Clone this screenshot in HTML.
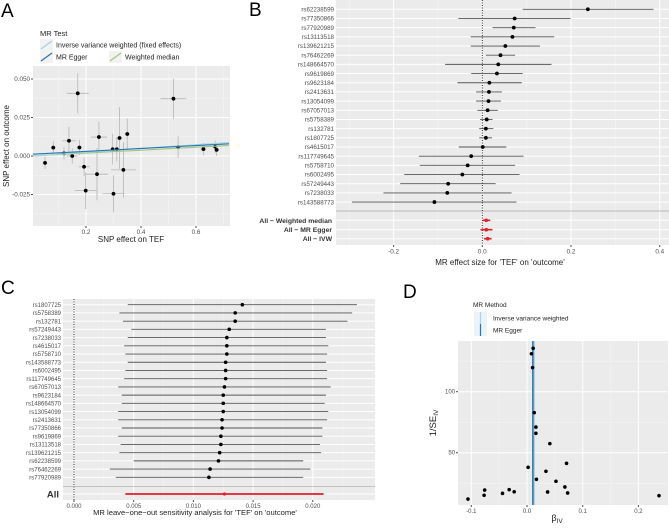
<!DOCTYPE html>
<html><head><meta charset="utf-8"><style>
html,body{margin:0;padding:0;background:#fff;}
svg{display:block;font-family:"Liberation Sans",sans-serif;}
</style></head><body>
<svg id="fig" width="669" height="528" viewBox="0 0 669 528" xmlns="http://www.w3.org/2000/svg"></svg>
<script>
// ---------- Panel A data ----------
const aX = [0.051,0.081,0.12,0.138,0.15,0.17,0.176,0.193,0.199,0.24,0.247,0.297,0.30,0.312,0.322,0.336,0.35,0.518,0.535,0.627,0.67,0.675];
const aY = [-0.0045,0.0054,0.0017,0.0099,0,0.0407,0.0055,-0.007,-0.0225,-0.0118,0.0123,0.0044,-0.0245,0.0044,0.0117,-0.009,0.0143,0.0372,0.0058,0.0045,0.006,0.004];
const aXerr = [0.008,0.008,0.02,0.025,0.02,0.04,0.01,0.02,0.04,0.04,0.03,0.005,0.04,0.01,0.01,0.045,0.01,0.047,0.01,0.01,0.01,0.008];
const aYerr = [0.004,0.004,0.004,0.009,0.005,0.013,0.005,0.006,0.012,0.017,0.01,0.01,0.012,0.008,0.02,0.018,0.01,0.013,0.007,0.004,0.004,0.004];
const aLineSlopes = [0.0122,0.0095,0.0095];
const aLineIntercepts = [0.0,0.0011,0.0];
const aLineNames = ["Inverse variance weighted (fixed effects)","MR Egger","Weighted median"];
const aXTicks = [0.2,0.4,0.6];
const aYTicks = [0.05,0.025,0,-0.025];
const aYTickLabels = ["0.050","0.025","0.000","-0.025"];
// ---------- Panel B data ----------
const bSnps = ["rs62238599","rs77350866","rs77920989","rs13113518","rs139621215","rs76462269","rs148664570","rs9619869","rs9623184","rs2413631","rs13054099","rs67057013","rs5758389","rs132781","rs1807725","rs4615017","rs117749645","rs5758710","rs6002495","rs57249443","rs7238033","rs143588773"];
const bEst = [0.238,0.073,0.071,0.068,0.052,0.041,0.036,0.033,0.016,0.015,0.014,0.012,0.010,0.008,0.008,0.001,-0.025,-0.033,-0.045,-0.077,-0.079,-0.108];
const bLo = [0.091,-0.054,0.023,-0.026,-0.026,0.008,-0.084,-0.025,-0.056,-0.014,-0.014,-0.011,-0.005,-0.007,-0.007,-0.053,-0.143,-0.141,-0.176,-0.185,-0.223,-0.294];
const bHi = [0.386,0.199,0.12,0.162,0.13,0.074,0.156,0.091,0.089,0.044,0.042,0.035,0.023,0.025,0.022,0.054,0.093,0.074,0.084,0.03,0.066,0.077];
const bSumNames = ["All - Weighted median","All - MR Egger","All - IVW"];
const bSumEst = [0.009,0.009,0.012];
const bSumLo = [0.001,-0.004,0.004];
const bSumHi = [0.018,0.023,0.021];
const bXTicks = [-0.2,0,0.2,0.4];
const bXTickLabels = ["-0.2","0.0","0.2","0.4"];
// ---------- Panel C data ----------
const cSnps = ["rs1807725","rs5758389","rs132781","rs57249443","rs7238033","rs4615017","rs5758710","rs143588773","rs6002495","rs117749645","rs67057013","rs9623184","rs148664570","rs13054099","rs2413631","rs77350866","rs9619869","rs13113518","rs139621215","rs62238599","rs76462269","rs77920989"];
const cEst = [0.0141,0.0135,0.0135,0.0130,0.0128,0.0128,0.0128,0.0127,0.0127,0.0127,0.0126,0.0125,0.0125,0.0125,0.0124,0.0124,0.0123,0.0123,0.0122,0.0121,0.0114,0.0113];
const cLo = [0.0045,0.0038,0.0041,0.0048,0.0045,0.0042,0.0043,0.0045,0.0043,0.0042,0.0037,0.0040,0.0040,0.0037,0.0037,0.0040,0.0037,0.0039,0.0038,0.0050,0.0030,0.0035];
const cHi = [0.0237,0.0233,0.0229,0.0211,0.0211,0.0213,0.0212,0.0211,0.0212,0.0212,0.0215,0.0211,0.0210,0.0213,0.0212,0.0208,0.0208,0.0206,0.0207,0.0192,0.0198,0.0192];
const cAll = [0.0126,0.0043,0.0209];
const cXTicks = [0,0.005,0.01,0.015,0.02];
const cXTickLabels = ["0.000","0.005","0.010","0.015","0.020"];
// ---------- Panel D data ----------
const dBeta = [0.011,0.008,0.010,0.013,0.016,0.016,0.041,0.002,0.071,0.034,0.017,0.052,0.068,0.073,0.037,-0.032,-0.023,-0.044,-0.076,-0.077,-0.106,0.237];
const dInvSe = [135.6,131.1,119.7,82.8,71,65.9,57.4,38,41.3,34.8,28.2,26.6,21.9,17,17.8,19.7,18,16.7,19.4,15.1,12,14.8];
const dMethodNames = ["Inverse variance weighted","MR Egger"];
const dMethodEst = [0.0125,0.0105];
const dXTicks = [-0.1,0,0.1,0.2];
const dXTickLabels = ["-0.1","0.0","0.1","0.2"];
const dYTicks = [50,100];

const NS="http://www.w3.org/2000/svg";
const svg=document.getElementById('fig');
function mk(tag,attrs,parent,text){const e=document.createElementNS(NS,tag);for(const k in attrs)e.setAttribute(k,attrs[k]);if(text!==undefined)e.textContent=text;(parent||svg).appendChild(e);return e;}
function lin(d0,d1,r0,r1){return v=>r0+(v-d0)*(r1-r0)/(d1-d0);}
const TICK="#4D4D4D", GRID="#FFFFFF", BG="#EBEBEB";

// ===== Panel A =====
(function(){
  const g=mk('g',{});
  
  const L=33,R=230,T=66,B=226;
  const x=lin(0,0.2,31,86), y=lin(0,0.025,156,117.5);
  const t=mk('text',{x:1,y:17,'font-size':19},g,'A');
  const lt=mk('text',{x:40,y:36,'font-size':7.5,fill:'#222'},g,'MR Test');
  const keys=[[40,45,56,'#B9DDEB'],[40,57,56,'#2D72B5'],[109,57,125,'#A8CF8E']];
  const ls=[['#9ED4E6','#BFD9E0'],['#2873B5','#2873B5'],['#9CC97E','#D0DEC6']];
  keys.forEach((k,i)=>{
    const kg=mk('g',{},g);
    mk('rect',{x:k[0],y:k[1]-6,width:13,height:12,fill:'#F2F2F2'},kg);
    mk('line',{x1:k[0]+1,y1:k[1]+4,x2:k[0]+12,y2:k[1]-4,stroke:ls[i][0],'stroke-width':1.3},kg);
    mk('text',{x:k[2],y:k[1]+2.5,'font-size':7,fill:'#222'},kg,aLineNames[i]);
  });
  const bg=mk('rect',{x:L,y:T,width:R-L,height:B-T,fill:BG},g);
  [0.1,0.3,0.5,0.7].forEach(v=>mk('line',{x1:x(v),x2:x(v),y1:T,y2:B,stroke:'#F5F5F5','stroke-width':0.5},g));
  [0.0375,0.0125,-0.0125,-0.0375].forEach(v=>mk('line',{x1:L,x2:R,y1:y(v),y2:y(v),stroke:'#F5F5F5','stroke-width':0.5},g));
  aXTicks.forEach(v=>{mk('line',{x1:x(v),x2:x(v),y1:T,y2:B,stroke:GRID,'stroke-width':1},g);mk('line',{x1:x(v),x2:x(v),y1:B,y2:B+2,stroke:TICK},g);
    const tl=mk('text',{x:x(v),y:B+8,'font-size':6.3,fill:TICK,'text-anchor':'middle'},g,String(v));});
  aYTicks.forEach((v,i)=>{mk('line',{x1:L,x2:R,y1:y(v),y2:y(v),stroke:GRID,'stroke-width':1},g);mk('line',{x1:L-2,x2:L,y1:y(v),y2:y(v),stroke:TICK},g);
    const tl=mk('text',{x:L-3,y:y(v)+2.2,'font-size':6.3,fill:TICK,'text-anchor':'end'},g,aYTickLabels[i]);});
  aX.forEach((v,i)=>{
    const pg=mk('g',{},g);
    mk('line',{x1:x(v-aXerr[i]),x2:x(v+aXerr[i]),y1:y(aY[i]),y2:y(aY[i]),stroke:'#B5B5B5','stroke-width':0.8},pg);
    mk('line',{x1:x(v),x2:x(v),y1:y(aY[i]-aYerr[i]),y2:y(aY[i]+aYerr[i]),stroke:'#B5B5B5','stroke-width':0.8},pg);
    mk('circle',{cx:x(v),cy:y(aY[i]),r:1.9,fill:'#000'},pg);
  });
  const cols=['#A8D8E8','#2873B5','#9CC97E'];
  [2,0,1].forEach(i=>{const x0=0.007,x1=0.72;
    const l=mk('line',{x1:x(x0),x2:x(x1),y1:y(aLineIntercepts[i]+aLineSlopes[i]*x0),y2:y(aLineIntercepts[i]+aLineSlopes[i]*x1),stroke:cols[i],'stroke-width':1.1},g);
    });
  const xt=mk('text',{x:131,y:242,'font-size':8,fill:'#222','text-anchor':'middle'},g,'SNP effect on TEF');
  const yt=mk('text',{x:0,y:0,'font-size':8,fill:'#222','text-anchor':'middle',transform:'translate(9,146) rotate(-90)'},g,'SNP effect on outcome');
})();

// ===== Panel B =====
(function(){
  const g=mk('g',{});
  const L=336,R=669,T=0,B=245;
  const x=lin(0,0.2,482.3,571);
  const row=i=>9.3+i*9.18; const srow=[220.3,229.7,238.7];
  const t=mk('text',{x:249,y:16,'font-size':19},g,'B');
  mk('rect',{x:L,y:T,width:R-L,height:B-T,fill:BG},g);
  [-0.3,-0.1,0.1,0.3].forEach(v=>mk('line',{x1:x(v),x2:x(v),y1:T,y2:B,stroke:'#F5F5F5','stroke-width':0.5},g));
  bXTicks.forEach((v,i)=>{mk('line',{x1:x(v),x2:x(v),y1:T,y2:B,stroke:GRID,'stroke-width':1},g);mk('line',{x1:x(v),x2:x(v),y1:B,y2:B+2,stroke:TICK},g);
    const tl=mk('text',{x:x(v),y:B+8.5,'font-size':6.3,fill:TICK,'text-anchor':'middle'},g,bXTickLabels[i]);});
  bSnps.forEach((s,i)=>mk('line',{x1:L,x2:R,y1:row(i),y2:row(i),stroke:GRID,'stroke-width':1},g));
  srow.forEach(yv=>mk('line',{x1:L,x2:R,y1:yv,y2:yv,stroke:GRID,'stroke-width':1},g));
  mk('line',{x1:L,x2:R,y1:211,y2:211,stroke:'#AAAAAA','stroke-width':0.7},g);
  mk('line',{x1:x(0),x2:x(0),y1:T,y2:B,stroke:'#000','stroke-width':0.8,'stroke-dasharray':'1,1.5'},g);
  bSnps.forEach((s,i)=>{
    const rg=mk('g',{},g);
    mk('text',{x:334,y:row(i)+2.2,'font-size':6.2,fill:TICK,'text-anchor':'end'},rg,s);
    mk('line',{x1:x(bLo[i]),x2:x(bHi[i]),y1:row(i),y2:row(i),stroke:'#555','stroke-width':0.9},rg);
    mk('circle',{cx:x(bEst[i]),cy:row(i),r:1.9,fill:'#000'},rg);
  });
  bSumNames.forEach((s,i)=>{
    const rg=mk('g',{},g);
    mk('text',{x:332,y:srow[i]+2.5,'font-size':6.8,'font-weight':'bold',fill:'#333','text-anchor':'end'},rg,s.replace(' - ',' \u2212 '));
    mk('line',{x1:x(bSumLo[i]),x2:x(bSumHi[i]),y1:srow[i],y2:srow[i],stroke:'#E0202A','stroke-width':1.6},rg);
    mk('circle',{cx:x(bSumEst[i]),cy:srow[i],r:1.8,fill:'#E0202A'},rg);
  });
  const xt=mk('text',{x:500,y:265,'font-size':8,fill:'#222','text-anchor':'middle'},g,"MR effect size for  'TEF' on 'outcome'");
})();

// ===== Panel C =====
(function(){
  const g=mk('g',{});
  const L=63,R=375,T=299,B=500;
  const x=lin(0,0.005,74,133.7);
  const row=i=>304.7+i*8.22; const allY=494;
  const t=mk('text',{x:1,y:294,'font-size':19},g,'C');
  mk('rect',{x:L,y:T,width:R-L,height:B-T,fill:BG},g);
  [0.0025,0.0075,0.0125,0.0175,0.0225].forEach(v=>mk('line',{x1:x(v),x2:x(v),y1:T,y2:B,stroke:'#F5F5F5','stroke-width':0.5},g));
  cXTicks.forEach((v,i)=>{mk('line',{x1:x(v),x2:x(v),y1:T,y2:B,stroke:GRID,'stroke-width':1},g);mk('line',{x1:x(v),x2:x(v),y1:B,y2:B+2,stroke:TICK},g);
    const tl=mk('text',{x:x(v),y:B+8,'font-size':6,fill:TICK,'text-anchor':'middle'},g,cXTickLabels[i]);});
  cSnps.forEach((s,i)=>mk('line',{x1:L,x2:R,y1:row(i),y2:row(i),stroke:GRID,'stroke-width':1},g));
  mk('line',{x1:L,x2:R,y1:allY,y2:allY,stroke:GRID,'stroke-width':1},g);
  mk('line',{x1:L,x2:R,y1:486.7,y2:486.7,stroke:'#AAAAAA','stroke-width':0.7},g);
  mk('line',{x1:x(0),x2:x(0),y1:T,y2:B,stroke:'#000','stroke-width':0.8,'stroke-dasharray':'1,1.5'},g);
  cSnps.forEach((s,i)=>{
    const rg=mk('g',{},g);
    mk('text',{x:61,y:row(i)+2.2,'font-size':6,fill:TICK,'text-anchor':'end'},rg,s);
    mk('line',{x1:x(cLo[i]),x2:x(cHi[i]),y1:row(i),y2:row(i),stroke:'#555','stroke-width':0.9},rg);
    mk('circle',{cx:x(cEst[i]),cy:row(i),r:1.8,fill:'#000'},rg);
  });
  const ag=mk('g',{},g);
  mk('text',{x:59,y:allY+3.5,'font-size':9.5,'font-weight':'bold',fill:'#333','text-anchor':'end'},ag,'All');
  mk('line',{x1:x(cAll[1]),x2:x(cAll[2]),y1:allY,y2:allY,stroke:'#E0202A','stroke-width':1.8},ag);
  mk('circle',{cx:x(cAll[0]),cy:allY,r:1.6,fill:'#E0202A'},ag);
  const xt=mk('text',{x:195,y:515,'font-size':7.6,fill:'#222','text-anchor':'middle'},g,"MR leave\u2212one\u2212out sensitivity analysis for  'TEF' on 'outcome'");
})();

// ===== Panel D =====
(function(){
  const g=mk('g',{});
  const L=458,R=668,T=341,B=505;
  const x=lin(0,0.1,527,582.7), y=lin(0,50,513.7,452.7);
  const t=mk('text',{x:403,y:298,'font-size':19},g,'D');
  const lt=mk('text',{x:473,y:307,'font-size':6.5,fill:'#222'},g,'MR Method');
  const lcol=['#A9D3E5','#2873B5'];
  dMethodNames.forEach((s,i)=>{const yy=318+i*12;
    const kg=mk('g',{},g);
    mk('rect',{x:474,y:yy-6,width:13,height:12,fill:'#EAF3F7'},kg);
    mk('line',{x1:480.5,x2:480.5,y1:yy-6,y2:yy+6,stroke:lcol[i],'stroke-width':1.2},kg);
    mk('text',{x:493,y:yy+2.3,'font-size':6.5,fill:'#222'},kg,s);});
  mk('rect',{x:L,y:T,width:R-L,height:B-T,fill:BG},g);
  [-0.05,0.05,0.15].forEach(v=>mk('line',{x1:x(v),x2:x(v),y1:T,y2:B,stroke:'#F5F5F5','stroke-width':0.5},g));
  [25,75,125].forEach(v=>mk('line',{x1:L,x2:R,y1:y(v),y2:y(v),stroke:'#F5F5F5','stroke-width':0.5},g));
  dXTicks.forEach((v,i)=>{mk('line',{x1:x(v),x2:x(v),y1:T,y2:B,stroke:GRID,'stroke-width':1},g);mk('line',{x1:x(v),x2:x(v),y1:B,y2:B+2,stroke:TICK},g);
    const tl=mk('text',{x:x(v),y:B+8,'font-size':6,fill:TICK,'text-anchor':'middle'},g,dXTickLabels[i]);});
  dYTicks.forEach(v=>{mk('line',{x1:L,x2:R,y1:y(v),y2:y(v),stroke:GRID,'stroke-width':1},g);mk('line',{x1:L-2,x2:L,y1:y(v),y2:y(v),stroke:TICK},g);
    const tl=mk('text',{x:L-3,y:y(v)+2,'font-size':6,fill:TICK,'text-anchor':'end'},g,String(v));});
  dMethodEst.forEach((v,i)=>{const l=mk('line',{x1:x(v),x2:x(v),y1:T,y2:B,stroke:lcol[i],'stroke-width':i?1.5:2},g);});
  dBeta.forEach((v,i)=>{const c=mk('circle',{cx:x(v),cy:y(dInvSe[i]),r:1.8,fill:'#000'},g);});
  const yt=mk('text',{x:0,y:0,'font-size':9.5,fill:'#222','text-anchor':'middle',transform:'translate(436,423) rotate(-90)'},g);
  
  yt.appendChild(document.createTextNode('1/SE'));mk('tspan',{'font-size':6.5,dy:2},yt,'IV');
  const xt=mk('text',{x:557,y:521,'font-size':9,fill:'#222','text-anchor':'middle'},g,'\u03B2');
  mk('tspan',{'font-size':6.5,dy:2},xt,'IV');
})();
</script>
</body></html>
